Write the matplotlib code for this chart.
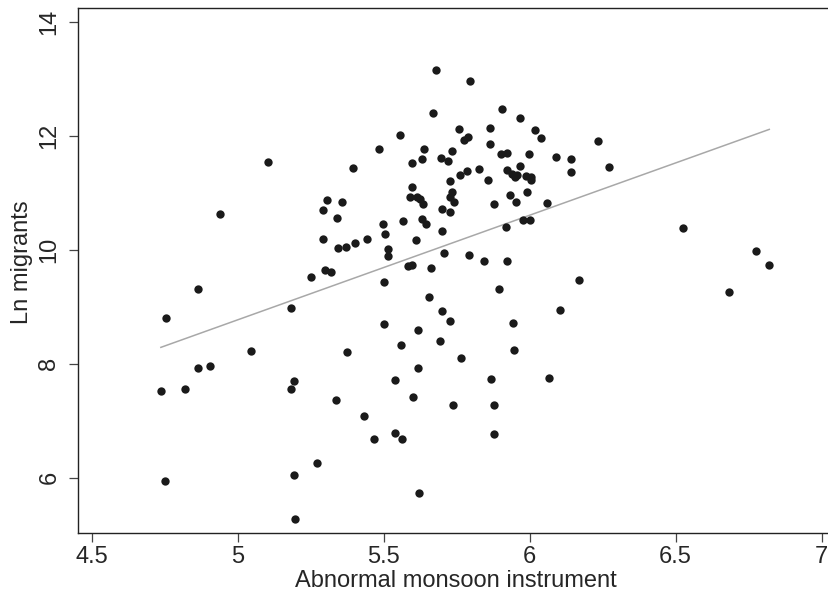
import numpy as np
import matplotlib
matplotlib.use('Agg')
import matplotlib.pyplot as plt

plt.rcParams['font.family'] = ['Liberation Sans', 'DejaVu Sans']

# Abnormal monsoon instrument (x) and Ln migrants (y)
monsoon = [
    4.736, 4.749, 4.754, 4.819, 4.862, 4.862, 4.904, 4.937, 5.046, 5.104,
    5.181, 5.183, 5.192, 5.191, 5.197, 5.249, 5.271, 5.290, 5.290, 5.297,
    5.305, 5.318, 5.337, 5.341, 5.342, 5.358, 5.372, 5.375, 5.395, 5.401,
    5.431, 5.443, 5.466, 5.484, 5.496, 5.499, 5.502, 5.505, 5.513, 5.513,
    5.537, 5.539, 5.554, 5.559, 5.564, 5.565, 5.582, 5.591, 5.597, 5.598,
    5.598, 5.601, 5.610, 5.614, 5.616, 5.616, 5.621, 5.625, 5.631, 5.631,
    5.636, 5.637, 5.646, 5.654, 5.662, 5.667, 5.678, 5.691, 5.696, 5.698,
    5.698, 5.701, 5.707, 5.721, 5.726, 5.728, 5.728, 5.728, 5.734, 5.735,
    5.737, 5.739, 5.759, 5.762, 5.766, 5.774, 5.785, 5.787, 5.793, 5.795,
    5.827, 5.842, 5.858, 5.863, 5.863, 5.867, 5.879, 5.879, 5.879, 5.896,
    5.903, 5.905, 5.920, 5.922, 5.922, 5.923, 5.931, 5.939, 5.943, 5.945,
    5.950, 5.952, 5.956, 5.967, 5.968, 5.976, 5.987, 5.992, 5.999, 6.002,
    6.004, 6.004, 6.018, 6.040, 6.059, 6.066, 6.090, 6.103, 6.140, 6.140,
    6.170, 6.235, 6.273, 6.526, 6.683, 6.776, 6.821,
]
ln_migrants = [
    7.52, 5.94, 8.80, 7.56, 7.93, 9.31, 7.96, 10.64, 8.22, 11.54,
    8.98, 7.56, 7.70, 6.05, 5.28, 9.52, 6.26, 10.70, 10.20, 9.65,
    10.88, 9.62, 7.36, 10.57, 10.03, 10.84, 10.05, 8.20, 11.44, 10.12,
    7.09, 10.20, 6.68, 11.78, 10.45, 9.44, 8.70, 10.28, 10.01, 9.89,
    6.78, 7.71, 12.02, 8.34, 6.68, 10.51, 9.72, 10.93, 9.73, 11.53,
    11.10, 7.42, 10.17, 10.93, 8.60, 7.92, 5.73, 10.89, 11.60, 10.54,
    10.80, 11.78, 10.45, 9.17, 9.69, 12.41, 13.16, 8.41, 11.62, 10.72,
    10.34, 8.93, 9.95, 11.57, 10.67, 11.21, 10.93, 8.76, 11.02, 11.74,
    7.28, 10.85, 12.12, 11.32, 8.11, 11.93, 11.39, 11.98, 9.92, 12.97,
    11.42, 9.81, 11.23, 12.15, 11.86, 7.74, 10.80, 7.28, 6.76, 9.31,
    11.68, 12.48, 10.40, 11.71, 11.40, 9.80, 10.96, 11.33, 8.71, 8.25,
    11.29, 10.85, 11.32, 12.31, 11.47, 10.52, 11.30, 11.01, 11.68, 10.52,
    11.29, 11.23, 12.11, 11.96, 10.82, 7.76, 11.64, 8.94, 11.59, 11.37,
    9.48, 11.92, 11.46, 10.38, 9.27, 9.98, 9.73,
]

# fitted line
fit_intercept = -0.405
fit_slope = 1.836

x_ticks = [4.5, 5, 5.5, 6, 6.5, 7]
x_tick_labels = ['4.5', '5', '5.5', '6', '6.5', '7']
y_ticks = [6, 8, 10, 12, 14]

text_color = '#262626'

fig = plt.figure(figsize=(8.29, 5.93), dpi=100, facecolor='white')
# axes run past the right edge of the picture, like the cropped original
ax = fig.add_axes([78 / 829, 60 / 593, 772.7 / 829, 525 / 593])

x = np.array(monsoon)
y = np.array(ln_migrants)
ax.scatter(x, y, s=36, color='#1a1a1a', linewidths=0, zorder=3)

fit_x = np.array([x.min(), x.max()])
ax.plot(fit_x, fit_intercept + fit_slope * fit_x, color='#a8a8a8', lw=1.1, zorder=2)

ax.set_xlim(4.452, 7.10)
ax.set_ylim(5.03, 14.25)

ax.set_xticks(x_ticks)
ax.set_xticklabels(x_tick_labels)
ax.set_yticks(y_ticks)
for lbl in ax.get_yticklabels():
    lbl.set_rotation(90)
    lbl.set_va('center')

ax.tick_params(axis='both', direction='out', length=6.5, width=0.9,
               color='#444444', labelcolor=text_color, labelsize=17)
ax.tick_params(axis='x', pad=3)
ax.tick_params(axis='y', pad=6.2)

for side in ['left', 'bottom', 'top', 'right']:
    ax.spines[side].set_color('#222222')
    ax.spines[side].set_linewidth(1.0)

ax.set_xlabel('Abnormal monsoon instrument', fontsize=17, color=text_color)
ax.set_ylabel('Ln migrants', fontsize=17, color=text_color)
ax.xaxis.set_label_coords(0.489, -0.071)
ax.yaxis.set_label_coords(-0.0582, 0.516)

fig.savefig('out.png', dpi=100, facecolor='white')
